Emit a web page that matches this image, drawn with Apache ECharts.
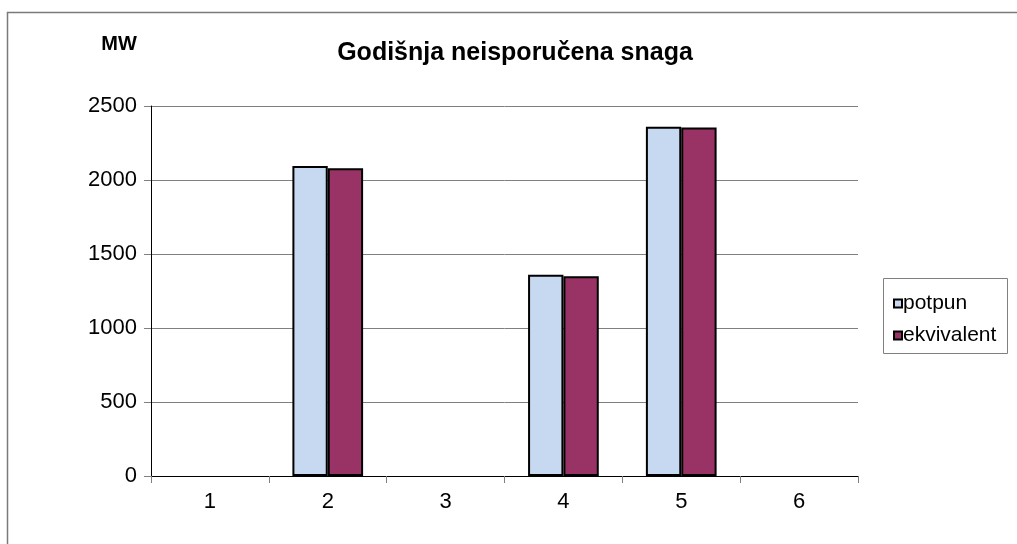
<!DOCTYPE html>
<html>
<head>
<meta charset="utf-8">
<script src="https://cdn.jsdelivr.net/npm/echarts@6/dist/echarts.min.js"></script>
<style>
  html, body { margin: 0; padding: 0; background: #fff; }
  #chart { width: 1017px; height: 544px; }
</style>
</head>
<body>
<div id="chart"></div>
<script>
// Annual undelivered power per case, MW
const categories = ['1', '2', '3', '4', '5', '6'];
const potpun = [0, 2095, 0, 1360, 2360, 0];
const ekvivalent = [0, 2080, 0, 1350, 2355, 0];
const seriesNames = ['potpun', 'ekvivalent'];
const titleText = 'Godišnja neisporučena snaga';
const unitText = 'MW';

// zero values leave an empty slot instead of a flat outlined bar
const asBars = arr => arr.map(v => (v === 0 ? null : v));

const font = '"Liberation Sans", Arial, sans-serif';
const chart = echarts.init(document.getElementById('chart'), null, { renderer: 'canvas' });

chart.setOption({
  animation: false,
  backgroundColor: '#fff',
  graphic: [
    {
      type: 'rect',
      shape: { x: 7.5, y: 12.5, width: 1020, height: 540 },
      style: { fill: 'none', stroke: '#7a7a7a', lineWidth: 1.5 },
      z: -1
    },
    {
      type: 'rect',
      shape: { x: 883.5, y: 278.5, width: 124, height: 75 },
      style: { fill: '#fff', stroke: '#808080', lineWidth: 1 },
      z: 0
    }
  ],
  title: [
    {
      text: titleText,
      left: 510, top: 36, textAlign: 'center',
      textStyle: { fontFamily: font, fontSize: 25, fontWeight: 'bold', color: '#000' }
    },
    {
      text: unitText,
      left: 114, top: 29, textAlign: 'center',
      textStyle: { fontFamily: font, fontSize: 20, fontWeight: 'bold', color: '#000' }
    }
  ],
  legend: {
    orient: 'vertical',
    left: 888, top: 288,
    itemWidth: 8, itemHeight: 8,
    itemGap: 11,
    icon: 'rect',
    z: 5,
    textStyle: { fontFamily: font, fontSize: 21, color: '#000', padding: [0, 0, 0, -4] },
    itemStyle: { borderColor: '#000', borderWidth: 2 },
    data: seriesNames
  },
  grid: { left: 151, right: 159, top: 106, bottom: 68, containLabel: false },
  xAxis: {
    type: 'category',
    data: categories,
    boundaryGap: true,
    axisLine: { show: true, lineStyle: { color: '#000', width: 1 } },
    axisTick: { show: true, inside: false, length: 7, lineStyle: { color: '#808080' } },
    axisLabel: { fontFamily: font, fontSize: 22, color: '#000', margin: 15 },
    splitLine: { show: false }
  },
  yAxis: {
    type: 'value',
    min: 0, max: 2500, interval: 500,
    axisLine: { show: true, lineStyle: { color: '#000', width: 1 } },
    axisTick: { show: true, length: 7, lineStyle: { color: '#808080' } },
    axisLabel: { fontFamily: font, fontSize: 22, color: '#000', margin: 14, formatter: v => String(v) },
    splitLine: { show: true, lineStyle: { color: '#808080', width: 1 } }
  },
  series: [
    {
      name: seriesNames[0],
      type: 'bar',
      data: asBars(potpun),
      barWidth: '30%',
      barGap: '0%',
      itemStyle: { color: '#C6D9F1', borderColor: '#000', borderWidth: 2 }
    },
    {
      name: seriesNames[1],
      type: 'bar',
      data: asBars(ekvivalent),
      barWidth: '30%',
      barGap: '0%',
      itemStyle: { color: '#993366', borderColor: '#000', borderWidth: 2 }
    }
  ]
});
</script>
</body>
</html>
